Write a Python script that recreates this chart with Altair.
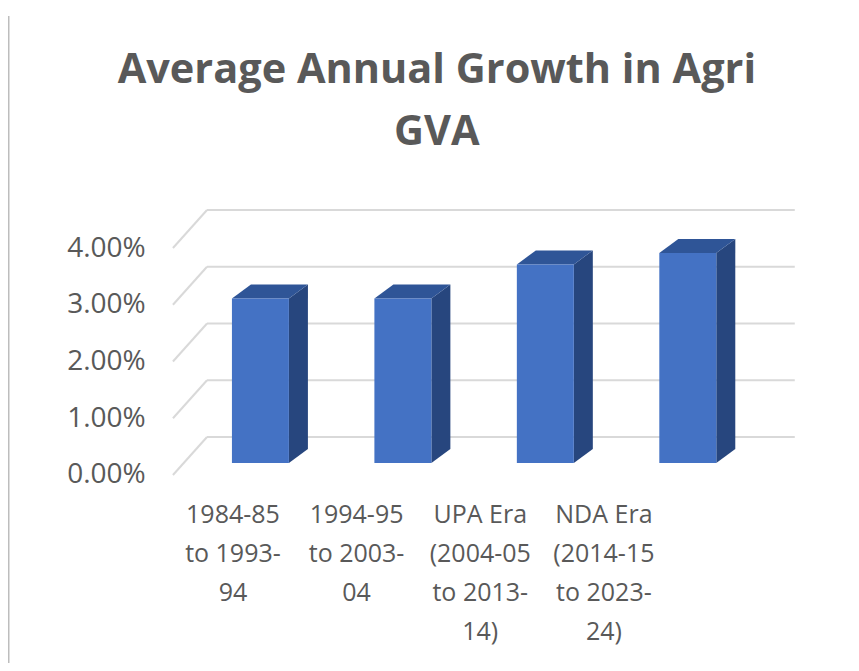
import altair as alt
import pandas as pd

# ---------------- data ----------------
categories = [
    "1984-85 to 1993-94",
    "1994-95 to 2003-04",
    "UPA Era (2004-05 to 2013-14)",
    "NDA Era (2014-15 to 2023-24)",
]
label_lines = [
    ["1984-85", "to 1993-", "94"],
    ["1994-95", "to 2003-", "04"],
    ["UPA Era", "(2004-05", "to 2013-", "14)"],
    ["NDA Era", "(2014-15", "to 2023-", "24)"],
]
growth_pct = [2.9, 2.9, 3.5, 3.7]
y_ticks = [0, 1, 2, 3, 4]
title_lines = ["Average Annual Growth in Agri", "GVA"]

# ---------------- geometry / style ----------------
PX_X = 142.5          # pixels per category step
PX_Y = 56.75          # pixels per 1 %
W, H = 570, 227
HALF = 28.5 / PX_X    # half bar width (x units)
DX = 19 / PX_X        # bar depth (x units)
DY = 14 / PX_Y        # bar depth (y units)
BACK_DY = 38 / PX_Y   # back wall lift (y units)
FRONT_X0 = -0.614     # front edge of floor/side wall
BACK_X0 = -0.375
BACK_X1 = 3.751
LBL_STEP = 123.7 / PX_X
LBL_X0 = -0.193
BAR_YOFF = -12

FRONT = "#4472C4"
SIDE = "#27467E"
TOP = "#2F5597"
GRID = "#D9D9D9"
TXT = "#595959"
FONT = "Open Sans"

n = len(categories)
xs = alt.Scale(domain=[-0.5, n - 0.5], nice=False, zero=False)
ys = alt.Scale(domain=[0, 4], nice=False, zero=False)

front = pd.DataFrame({
    "cat": categories,
    "x0": [i - HALF for i in range(n)],
    "x1": [i + HALF for i in range(n)],
    "v": growth_pct,
})

side_rows, top_rows = [], []
for i, (c, v) in enumerate(zip(categories, growth_pct)):
    side_rows += [
        {"cat": c, "x": i + HALF, "lo": 0, "hi": v},
        {"cat": c, "x": i + HALF + DX, "lo": DY, "hi": v + DY},
    ]
    top_rows += [
        {"cat": c, "y": v, "xl": i - HALF, "xr": i + HALF},
        {"cat": c, "y": v + DY, "xl": i - HALF + DX, "xr": i + HALF + DX},
    ]
side = pd.DataFrame(side_rows)
top = pd.DataFrame(top_rows)

back = pd.DataFrame({"t": y_ticks,
                     "yb": [t + BACK_DY for t in y_ticks],
                     "x0": [BACK_X0] * len(y_ticks),
                     "x1": [BACK_X1] * len(y_ticks)})
diag_rows = []
for t in y_ticks:
    diag_rows += [{"t": t, "x": FRONT_X0, "y": t}, {"t": t, "x": BACK_X0, "y": t + BACK_DY}]
diag = pd.DataFrame(diag_rows)

labels = pd.DataFrame({
    "cat": categories,
    "lx": [LBL_X0 + i * LBL_STEP for i in range(n)],
    "txt": ["\n".join(l) for l in label_lines],
})

yaxis = alt.Axis(values=y_ticks, labelExpr="format(datum.value, '.2f') + '%'",
                 domain=False, ticks=False, grid=False, title=None,
                 labelFont=FONT, labelFontSize=28, labelColor=TXT, labelPadding=44)

back_layer = alt.Chart(back).mark_rule(color=GRID, strokeWidth=2).encode(
    x=alt.X("x0:Q", scale=xs, axis=None), x2="x1:Q",
    y=alt.Y("yb:Q", scale=ys, axis=yaxis),
)
diag_layer = alt.Chart(diag).mark_line(color=GRID, strokeWidth=2).encode(
    x=alt.X("x:Q", scale=xs), y=alt.Y("y:Q", scale=ys), detail="t:N",
)
y_anchor = alt.Chart(pd.DataFrame({"t": y_ticks})).mark_point(opacity=0).encode(
    y=alt.Y("t:Q", scale=ys, axis=yaxis),
)
side_layer = alt.Chart(side).mark_area(
    color=SIDE, yOffset=BAR_YOFF, y2Offset=BAR_YOFF, orient="vertical"
).encode(
    x=alt.X("x:Q", scale=xs), y=alt.Y("hi:Q", scale=ys), y2="lo:Q", detail="cat:N",
)
top_layer = alt.Chart(top).mark_area(color=TOP, yOffset=BAR_YOFF, orient="horizontal").encode(
    y=alt.Y("y:Q", scale=ys), x=alt.X("xl:Q", scale=xs), x2="xr:Q", detail="cat:N",
)
front_layer = alt.Chart(front).mark_bar(color=FRONT, yOffset=BAR_YOFF, y2Offset=BAR_YOFF).encode(
    x=alt.X("x0:Q", scale=xs), x2="x1:Q",
    y=alt.Y("v:Q", scale=ys), y2=alt.datum(0),
)
label_layer = alt.Chart(labels).mark_text(
    font=FONT, fontSize=25, color=TXT, baseline="top", align="center",
    lineBreak="\n", lineHeight=39,
).encode(x=alt.X("lx:Q", scale=xs), y=alt.value(255), text="txt:N")

title_layer = alt.Chart(pd.DataFrame({"t": ["\n".join(title_lines)]})).mark_text(
    font=FONT, fontSize=41.5, fontWeight="bold", color=TXT, baseline="top",
    align="center", lineBreak="\n", lineHeight=62,
).encode(x=alt.value(247.75), y=alt.value(-198), text="t:N")

border = alt.Chart(pd.DataFrame({"a": [0]})).mark_rule(color="#BDBDBD", strokeWidth=1.5).encode(
    x=alt.value(-180.5), y=alt.value(-232), y2=alt.value(423),
)

chart = alt.layer(
    border, back_layer, diag_layer, y_anchor, side_layer, top_layer, front_layer,
    label_layer, title_layer,
).properties(
    width=W, height=H,
    padding={"left": 181.25, "top": 240, "right": 92, "bottom": 188},
    autosize=alt.AutoSizeParams(type="none"),
    background="white",
).configure_view(stroke=None)

chart.save("out.html", embed_options={"renderer": "svg", "actions": False})
